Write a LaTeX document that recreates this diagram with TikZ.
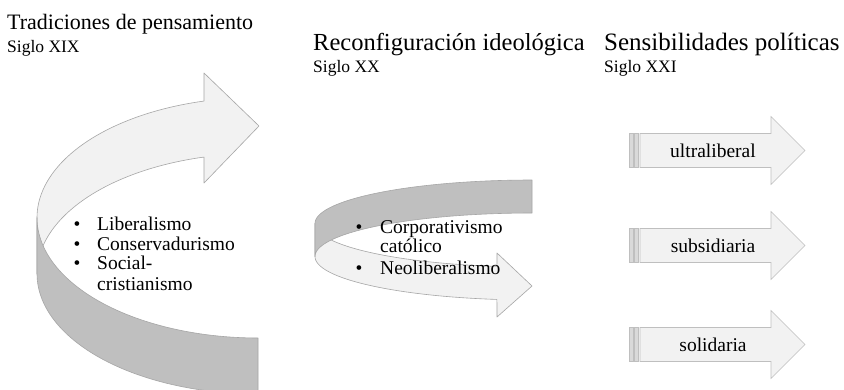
\documentclass[tikz,border=0pt]{standalone}
\usepackage{fontspec}
\setmainfont{Liberation Serif}
\definecolor{lightfill}{HTML}{F2F2F2}
\definecolor{lightedge}{HTML}{A6A6A6}
\definecolor{darkfill}{HTML}{BFBFBF}
\definecolor{darkedge}{HTML}{A6A6A6}
\definecolor{stripefill}{HTML}{D9D9D9}
\definecolor{arrowedge}{HTML}{BFBFBF}
\begin{document}
\begin{tikzpicture}[x=1pt,y=-1pt,
  front/.style={fill=lightfill,draw=lightedge,line width=0.6pt,line join=round},
  back/.style={fill=darkfill,draw=darkedge,line width=0.6pt,line join=round},
  stripe/.style={fill=stripefill,draw=arrowedge,line width=0.6pt},
  rarrow/.style={fill=lightfill,draw=arrowedge,line width=0.6pt,line join=miter},
  title/.style={anchor=base west,inner sep=0pt,font=\fontsize{24.5}{28}\selectfont},
  sub/.style={anchor=base west,inner sep=0pt,font=\fontsize{17.5}{20}\selectfont},
  item/.style={anchor=base west,inner sep=0pt,font=\fontsize{19.5}{20}\selectfont},
  bul/.style={anchor=base,inner sep=0pt,font=\fontsize{19.5}{20}\selectfont},
  lab/.style={anchor=base,inner sep=0pt,font=\fontsize{19.5}{20}\selectfont},
]
\useasboundingbox (0,0) rectangle (844,389);
\fill[white] (0,0) rectangle (844,389);

% ---- left curved arrow ----
\draw[front] (204,101) -- plot[domain=104.14:180,samples=60] ({258+221*cos(\x)},{217.7-120.3*sin(\x)})
  -- (37,273.7) -- plot[domain=180:104.14,samples=60] ({258+221*cos(\x)},{273.7-120.3*sin(\x)})
  -- (204,183) -- (259,126) -- (204,73) -- cycle;
\draw[back] plot[domain=180:270,samples=60] ({258+221*cos(\x)},{217.7-120.3*sin(\x)})
  -- (258,394) -- plot[domain=270:180,samples=60] ({258+221*cos(\x)},{273.7-120.3*sin(\x)}) -- cycle;

% ---- middle curved arrow ----
\draw[front] plot[domain=180:260.7,samples=50] ({532+217*cos(\x)},{223.5-43.5*sin(\x)})
  -- (497,253) -- (532,286) -- (497,317)
  -- plot[domain=260.7:180,samples=50] ({532+217*cos(\x)},{256.5-43.5*sin(\x)}) -- cycle;
\draw[back] plot[domain=90:180,samples=50] ({532+217*cos(\x)},{223.5-43.5*sin(\x)})
  -- plot[domain=180:90,samples=50] ({532+217*cos(\x)},{256.5-43.5*sin(\x)}) -- cycle;

% ---- right striped arrows ----
\foreach \c/\t/\n in {150.5/ultraliberal/ra, 245.5/subsidiaria/rb, 344.5/solidaria/rc}{
  \draw[stripe] (629,{\c-17}) rectangle (633,{\c+17});
  \draw[stripe] (634.5,{\c-17}) rectangle (638.5,{\c+17});
  \draw[rarrow] (640,{\c-17}) -- (771,{\c-17}) -- (771,{\c-34}) -- (805,\c)
     -- (771,{\c+34}) -- (771,{\c+17}) -- (640,{\c+17}) -- cycle;
  \node[lab] (\n) at (713,{\c+6.5}) {\t};
}

% ---- titles ----
\node[title,font=\fontsize{22}{26}\selectfont] (t1) at (7,29) {Tradiciones de pensamiento};
\node[sub] (s1) at (7,52) {Siglo XIX};
\node[title] (t2) at (313,50) {Reconfiguración ideológica};
\node[sub] (s2) at (313,72) {Siglo XX};
\node[title,font=\fontsize{25}{28}\selectfont] (t3) at (604,50) {Sensibilidades políticas};
\node[sub] (s3) at (604,72) {Siglo XXI};

% ---- left list ----
\node[bul] (lb1) at (77,230) {\textbullet};
\node[bul] (lb2) at (77,250) {\textbullet};
\node[bul] (lb3) at (77,269) {\textbullet};
\node[item] (li1) at (97,230) {Liberalismo};
\node[item] (li2) at (97,250) {Conservadurismo};
\node[item] (li3) at (97,269) {Social-};
\node[item] (li4) at (97,290) {cristianismo};

% ---- middle list ----
\node[bul] (mb1) at (359,233) {\textbullet};
\node[bul] (mb2) at (359,274) {\textbullet};
\node[item] (mi1) at (380,233) {Corporativismo};
\node[item] (mi2) at (380,252) {católico};
\node[item] (mi3) at (380,274) {Neoliberalismo};
\end{tikzpicture}
\end{document}
